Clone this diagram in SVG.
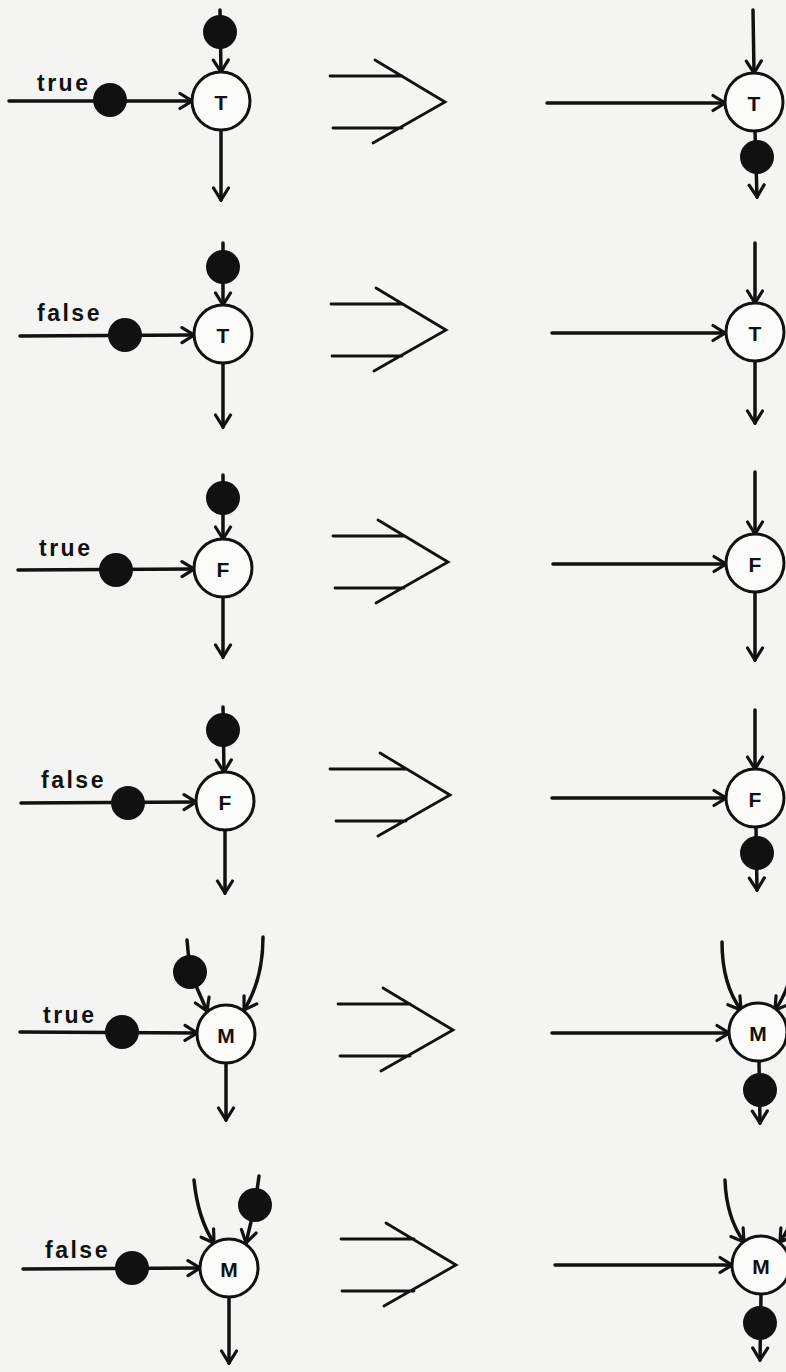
<svg xmlns="http://www.w3.org/2000/svg" width="786" height="1372" viewBox="0 0 786 1372">
<style>
.bg{fill:#f4f4f2}
.n{fill:#fbfbfa;stroke:#111;stroke-width:3}
.nt{font-family:"Liberation Sans",Arial,sans-serif;font-weight:bold;font-size:21px;fill:#111;text-anchor:middle;dominant-baseline:central}
.e{fill:none;stroke:#111;stroke-width:3.5;stroke-linecap:round;marker-end:url(#ah)}
.c{fill:none;stroke:#111;stroke-width:2.8;stroke-linecap:round;stroke-linejoin:miter}
.tok{fill:#111}
.lbl{font-family:"Liberation Sans",Arial,sans-serif;font-weight:bold;font-size:23px;letter-spacing:2.5px;fill:#111}
</style>
<defs>
<marker id="ah" viewBox="-15 -10 17 20" markerWidth="17" markerHeight="20" refX="0" refY="0" orient="auto" markerUnits="userSpaceOnUse">
<path d="M-12,-7.5 L0,0 L-12,7.5" fill="none" stroke="#111" stroke-width="3.2" stroke-linecap="round"/>
</marker>
</defs>
<rect class="bg" x="0" y="0" width="786" height="1372"/>

<g id="connectors">
<!-- row 1 left -->
<path class="e" d="M9,101 L192,101"/>
<path class="e" d="M220,10 L221,72"/>
<path class="e" d="M221,130 L221,200"/>
<!-- row 2 left -->
<path class="e" d="M20,336 L194,335"/>
<path class="e" d="M223,243 L223,305"/>
<path class="e" d="M223,363 L223,427"/>
<!-- row 3 left -->
<path class="e" d="M18,570 L194,569"/>
<path class="e" d="M223,475 L223,539"/>
<path class="e" d="M223,597 L223,657"/>
<!-- row 4 left -->
<path class="e" d="M21,803 L196,802"/>
<path class="e" d="M223,707 L224,772"/>
<path class="e" d="M225,830 L225,893"/>
<!-- row 5 left -->
<path class="e" d="M20,1032 L197,1033"/>
<path class="e" d="M187,940 L190,972 L207,1011"/>
<path class="e" d="M263,937 C263,968 256,991 244,1010"/>
<path class="e" d="M226,1063 L226,1120"/>
<!-- row 6 left -->
<path class="e" d="M23,1269 L200,1268"/>
<path class="e" d="M194,1180 C197,1210 204,1228 214,1243"/>
<path class="e" d="M259,1176 L255,1205 L246,1243"/>
<path class="e" d="M229,1297 L229,1363"/>

<!-- transformation chevrons -->
<g id="chev1">
<path class="c" d="M330,76 L402,76 M333,128 L402,128 M375,60 L445,102 L373,143"/>
</g>
<g id="chev2">
<path class="c" d="M331,304 L402,304 M332,356 L402,356 M376,288 L446,330 L374,371"/>
</g>
<g id="chev3">
<path class="c" d="M333,536 L404,536 M335,588 L404,588 M378,520 L448,562 L376,603"/>
</g>
<g id="chev4">
<path class="c" d="M330,769 L406,769 M336,821 L406,821 M380,753 L450,795 L378,836"/>
</g>
<g id="chev5">
<path class="c" d="M338,1004 L410,1004 M340,1056 L410,1056 M383,988 L453,1030 L381,1071"/>
</g>
<g id="chev6">
<path class="c" d="M341,1239 L414,1239 M342,1291 L414,1291 M386,1223 L456,1265 L384,1306"/>
</g>

<!-- row 1 right -->
<path class="e" d="M547,103 L725,103"/>
<path class="e" d="M753,10 L754,73"/>
<path class="e" d="M755,131 L757,197"/>
<!-- row 2 right -->
<path class="e" d="M552,333 L725,333"/>
<path class="e" d="M755,243 L755,303"/>
<path class="e" d="M755,361 L755,423"/>
<!-- row 3 right -->
<path class="e" d="M553,564 L726,564"/>
<path class="e" d="M755,472 L755,534"/>
<path class="e" d="M755,592 L755,660"/>
<!-- row 4 right -->
<path class="e" d="M552,798 L726,798"/>
<path class="e" d="M755,710 L755,769"/>
<path class="e" d="M756,827 L757,890"/>
<!-- row 5 right -->
<path class="e" d="M552,1033 L729,1033"/>
<path class="e" d="M722,942 C722,975 730,995 741,1010"/>
<path class="e" d="M794,942 C794,975 786,995 775,1010"/>
<path class="e" d="M759,1061 L760,1123"/>
<!-- row 6 right -->
<path class="e" d="M555,1265 L732,1265"/>
<path class="e" d="M725,1180 C726,1210 734,1228 744,1242"/>
<path class="e" d="M799,1180 C798,1210 790,1228 780,1242"/>
<path class="e" d="M761,1294 L760,1360"/>

<!-- tokens -->
<circle class="tok" cx="110" cy="100" r="17"/>
<circle class="tok" cx="220" cy="32" r="17"/>
<circle class="tok" cx="125" cy="335" r="17"/>
<circle class="tok" cx="223" cy="267" r="17"/>
<circle class="tok" cx="116" cy="570" r="17"/>
<circle class="tok" cx="223" cy="498" r="17"/>
<circle class="tok" cx="128" cy="803" r="17"/>
<circle class="tok" cx="223" cy="730" r="17"/>
<circle class="tok" cx="122" cy="1032" r="17"/>
<circle class="tok" cx="190" cy="972" r="17"/>
<circle class="tok" cx="132" cy="1268" r="17"/>
<circle class="tok" cx="255" cy="1205" r="17"/>
<circle class="tok" cx="757" cy="157" r="17"/>
<circle class="tok" cx="757" cy="853" r="17"/>
<circle class="tok" cx="760" cy="1090" r="17"/>
<circle class="tok" cx="760" cy="1323" r="17"/>

<!-- labels -->
<text class="lbl" x="37" y="91">true</text>
<text class="lbl" x="37" y="321">false</text>
<text class="lbl" x="39" y="556">true</text>
<text class="lbl" x="41" y="788">false</text>
<text class="lbl" x="43" y="1023">true</text>
<text class="lbl" x="45" y="1258">false</text>
</g>

<g id="node-L1"><circle class="n" cx="221" cy="101" r="29"/><text class="nt" x="221" y="102">T</text></g>
<g id="node-L2"><circle class="n" cx="223" cy="334" r="29"/><text class="nt" x="223" y="335">T</text></g>
<g id="node-L3"><circle class="n" cx="223" cy="568" r="29"/><text class="nt" x="223" y="569">F</text></g>
<g id="node-L4"><circle class="n" cx="225" cy="801" r="29"/><text class="nt" x="225" y="802">F</text></g>
<g id="node-L5"><circle class="n" cx="226" cy="1034" r="29"/><text class="nt" x="226" y="1035">M</text></g>
<g id="node-L6"><circle class="n" cx="229" cy="1268" r="29"/><text class="nt" x="229" y="1269">M</text></g>

<g id="node-R1"><circle class="n" cx="754" cy="102" r="29"/><text class="nt" x="754" y="103">T</text></g>
<g id="node-R2"><circle class="n" cx="755" cy="332" r="29"/><text class="nt" x="755" y="333">T</text></g>
<g id="node-R3"><circle class="n" cx="755" cy="563" r="29"/><text class="nt" x="755" y="564">F</text></g>
<g id="node-R4"><circle class="n" cx="755" cy="798" r="29"/><text class="nt" x="755" y="799">F</text></g>
<g id="node-R5"><circle class="n" cx="758" cy="1032" r="29"/><text class="nt" x="758" y="1033">M</text></g>
<g id="node-R6"><circle class="n" cx="761" cy="1265" r="29"/><text class="nt" x="761" y="1266">M</text></g>
</svg>
